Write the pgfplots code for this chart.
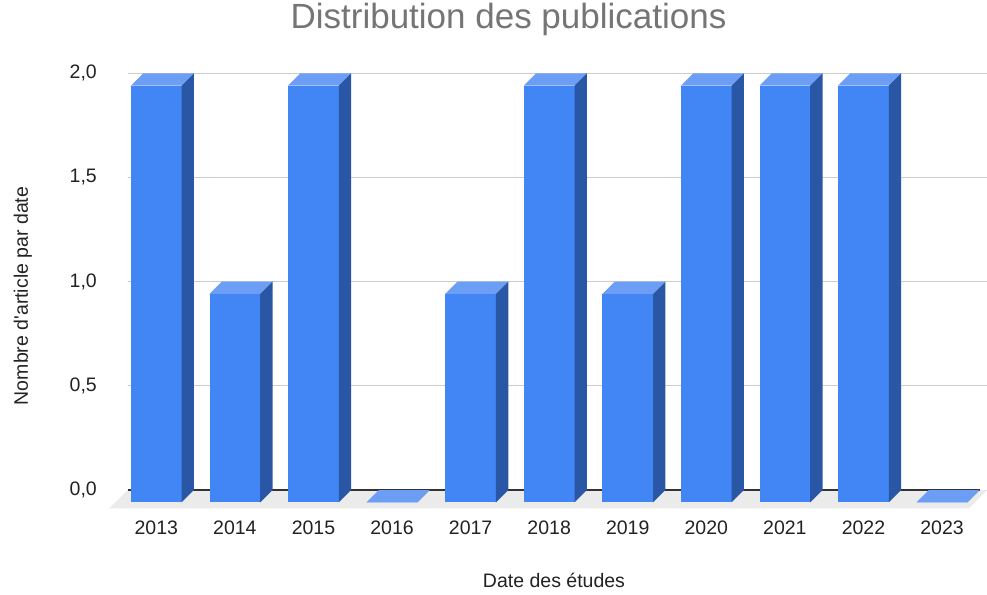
\documentclass[border=0pt]{standalone}
\usepackage{pgfplots}
\pgfplotsset{compat=1.18}
\usepackage{fontspec}
\setmainfont{Liberation Sans}
\definecolor{barfront}{HTML}{4285F4}
\definecolor{bartop}{HTML}{6C9EF6}
\definecolor{barside}{HTML}{2A56A6}
\definecolor{floorc}{HTML}{EBEBEB}
\definecolor{gridc}{HTML}{CCCCCC}
\definecolor{basec}{HTML}{333333}
\definecolor{titlec}{HTML}{757575}
\definecolor{textc}{HTML}{222222}

\pgfdeclareplotmark{box3d}{%
  \pgfmathsetmacro{\hh}{\rawy*208.35}%
  \pgfmathsetmacro{\yb}{-12.3-\hh}%
  \pgfmathsetmacro{\yc}{0-\hh}%
  \pgfpathmoveto{\pgfqpoint{-37.65pt}{\yb pt}}%
  \pgfpathlineto{\pgfqpoint{13.05pt}{\yb pt}}%
  \pgfpathlineto{\pgfqpoint{13.05pt}{-12.3pt}}%
  \pgfpathlineto{\pgfqpoint{-37.65pt}{-12.3pt}}%
  \pgfpathclose
  \pgfsetfillcolor{barfront}\pgfusepath{fill}%
  \pgfpathmoveto{\pgfqpoint{-37.65pt}{-12.3pt}}%
  \pgfpathlineto{\pgfqpoint{13.05pt}{-12.3pt}}%
  \pgfpathlineto{\pgfqpoint{25.35pt}{0pt}}%
  \pgfpathlineto{\pgfqpoint{-25.35pt}{0pt}}%
  \pgfpathclose
  \pgfsetfillcolor{bartop}\pgfusepath{fill}%
  \pgfpathmoveto{\pgfqpoint{13.05pt}{-12.3pt}}%
  \pgfpathlineto{\pgfqpoint{25.35pt}{0pt}}%
  \pgfpathlineto{\pgfqpoint{25.35pt}{\yc pt}}%
  \pgfpathlineto{\pgfqpoint{13.05pt}{\yb pt}}%
  \pgfpathclose
  \pgfsetfillcolor{barside}\pgfusepath{fill}%
}

\begin{document}
\begin{tikzpicture}[x=1pt,y=1pt]
\path[use as bounding box] (0,0) rectangle (987,594);
\begin{axis}[
  at={(128pt,104pt)}, anchor=south west,
  scale only axis, width=859pt, height=416.7pt,
  xmin=-0.517, xmax=10.416, ymin=0, ymax=2,
  clip=false,
  axis line style={draw=none},
  major tick length=0pt,
  ymajorgrids, grid style={gridc, line width=1pt},
  ytick={0,0.5,1,1.5,2},
  xtick={0,1,2,3,4,5,6,7,8,9,10},
  xticklabels={2013,2014,2015,2016,2017,2018,2019,2020,2021,2022,2023},
  /pgf/number format/assume math mode=true,
  yticklabel style={/pgf/number format/.cd, fixed, fixed zerofill, precision=1, use comma, /tikz/.cd,
    anchor=east, inner sep=0pt, xshift=-31pt},
  xticklabel style={anchor=north, inner sep=0pt, yshift=-31pt, xshift=-12.3pt},
  tick label style={font=\fontsize{19.5}{22}\selectfont, text=textc},
  title={Distribution des publications},
  title style={at={([xshift=-49pt,yshift=38.3pt]axis description cs:0.5,1)}, anchor=base,
    font=\fontsize{35}{40}\selectfont, text=titlec, inner sep=0pt},
  xlabel={Date des études},
  xlabel style={at={([xshift=-3.5pt,yshift=-97pt]axis description cs:0.5,0)}, anchor=base,
    font=\fontsize{19.5}{22}\selectfont, text=textc, inner sep=0pt},
  ylabel={Nombre d\textquotesingle article par date},
  ylabel style={at={([xshift=-100pt,yshift=-14.3pt]axis description cs:0,0.5)}, anchor=base,
    rotate=0, font=\fontsize{19.5}{22}\selectfont, text=textc, inner sep=0pt},
]
\fill[floorc] ([xshift=0pt]rel axis cs:0,0) -- ([xshift=0pt]rel axis cs:1,0)
  -- ([xshift=-18pt,yshift=-18.3pt]rel axis cs:1,0) -- ([xshift=-18.7pt,yshift=-18.3pt]rel axis cs:0,0) -- cycle;
\draw[basec, line width=1.2pt] (rel axis cs:0,0) -- ([xshift=-7pt]rel axis cs:1,0);
\addplot[only marks, mark=box3d, visualization depends on={rawy \as \rawy}]
  coordinates {(0,2) (1,1) (2,2) (3,0) (4,1) (5,2) (6,1) (7,2) (8,2) (9,2) (10,0)};
\end{axis}
\end{tikzpicture}
\end{document}
